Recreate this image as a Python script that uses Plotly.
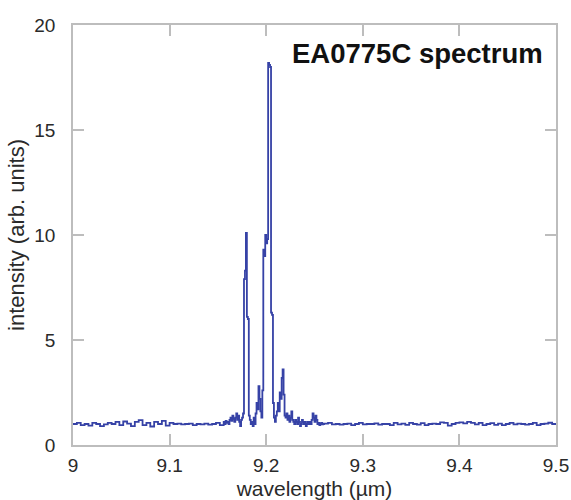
import numpy as np
import plotly.graph_objects as go

# ---- data ----
# baseline left of the emission, sampled every 0.004 um from 9.000
left_intensity = [1.00, 1.05, 0.95, 1.00, 0.92, 1.05, 1.00, 0.90, 0.98, 1.05,
                  1.00, 1.10, 0.95, 1.12, 1.02, 0.90, 1.10, 1.18, 0.95, 1.05,
                  0.88, 1.10, 1.00, 1.15, 0.92, 1.05, 1.00, 1.02, 0.98, 1.00,
                  1.02, 0.95, 1.00, 0.98, 1.02, 0.97, 1.00, 1.05, 0.95, 1.10]
left_start, left_step = 9.000, 0.004

# emission region, sampled every 0.001 um from 9.157
mid_intensity = [1.00, 1.15, 1.05, 1.10, 1.00, 1.20, 1.30, 1.15, 1.40, 1.25,
                 1.10, 1.30, 1.50, 1.20, 1.40, 1.10, 0.90, 1.20, 1.30, 1.50,
                 7.90, 8.30, 10.10, 6.10, 6.00, 1.40, 1.20, 1.00, 1.10, 0.90,
                 1.30, 1.00, 1.50, 2.00, 1.70, 2.80, 2.20, 1.60, 1.30, 2.60,
                 9.30, 9.00, 10.00, 9.60, 9.80, 18.20, 18.10, 18.00, 6.30, 6.20,
                 2.00, 1.30, 1.10, 1.40, 1.60, 2.00, 1.60, 2.50, 2.20, 3.20,
                 3.60, 2.40, 1.40, 1.30, 1.50, 1.20, 1.40, 1.10, 1.30, 1.60,
                 1.20, 1.10, 1.00, 1.20, 1.10, 1.00, 1.30, 1.10, 0.90, 1.00,
                 1.20, 1.10, 1.00, 1.10, 0.90, 1.00, 1.10, 1.00, 1.10, 1.00,
                 1.20, 1.50, 1.30, 1.10, 1.40, 1.20, 1.00, 1.05, 0.95, 1.00,
                 1.05, 0.98, 1.00, 1.02]
mid_start, mid_step = 9.157, 0.001

# baseline right of the emission, sampled every 0.004 um from 9.264
right_intensity = [1.05, 0.98, 1.00, 0.97, 1.00, 1.02, 0.95, 1.00, 1.05, 0.98,
                   1.00, 1.00, 1.03, 0.97, 1.00, 1.00, 0.95, 1.05, 0.98, 1.02,
                   0.96, 1.05, 1.00, 0.97, 1.04, 0.95, 1.00, 1.02, 1.00, 1.08,
                   1.05, 0.92, 1.00, 1.05, 1.08, 1.03, 1.10, 1.05, 0.98, 1.05,
                   0.95, 1.00, 1.04, 0.96, 1.02, 0.95, 1.00, 1.05, 0.98, 1.02,
                   1.00, 0.97, 1.00, 1.05, 0.95, 1.00, 1.02, 1.06, 1.00, 1.03]
right_start, right_step = 9.264, 0.004

x_ticks = [9, 9.1, 9.2, 9.3, 9.4, 9.5]
x_tick_labels = ["9", "9.1", "9.2", "9.3", "9.4", "9.5"]
y_ticks = [0, 5, 10, 15, 20]
y_tick_labels = ["0", "5", "10", "15", "20"]

title_text = "EA0775C spectrum"
x_title = "wavelength (µm)"
y_title = "intensity (arb. units)"

# ---- build wavelength grid ----
def grid(start, step, n):
    return [round(start + step * i, 4) for i in range(n)]

wavelength = (grid(left_start, left_step, len(left_intensity))
              + grid(mid_start, mid_step, len(mid_intensity))
              + grid(right_start, right_step, len(right_intensity)))
intensity = left_intensity + mid_intensity + right_intensity

LINE = "#3642a6"
AX = "#bdbdbd"
TXT = "#2a2a2a"
FONT = "Liberation Sans, Arial, sans-serif"

fig = go.Figure()
fig.add_trace(go.Scatter(
    x=wavelength, y=intensity, mode="lines",
    line=dict(color=LINE, width=1.8, shape="hv"),
    hoverinfo="skip", showlegend=False,
))

axis_common = dict(
    showgrid=False, zeroline=False, showline=True, linecolor=AX, linewidth=1.5,
    mirror="ticks", ticks="inside", tickcolor=AX, tickwidth=1.5, ticklen=11,
    tickfont=dict(family=FONT, size=19, color=TXT), automargin=False,
)

fig.update_layout(
    width=571, height=500,
    margin=dict(l=73, r=15, t=25, b=55),
    paper_bgcolor="white", plot_bgcolor="white",
    font=dict(family=FONT, color=TXT),
    xaxis=dict(range=[9, 9.5], tickvals=x_ticks, ticktext=x_tick_labels,
               title=dict(text=x_title, font=dict(family=FONT, size=21, color=TXT), standoff=8),
               ticklabelstandoff=2, **axis_common),
    yaxis=dict(range=[0, 20], tickvals=y_ticks, ticktext=y_tick_labels,
               title=dict(text=y_title, font=dict(family=FONT, size=22, color=TXT), standoff=4),
               ticklabelstandoff=12, **axis_common),
    annotations=[dict(
        text="<b>" + title_text + "</b>", xref="paper", yref="paper",
        x=0.9765, y=0.932, xanchor="right", yanchor="middle", showarrow=False,
        font=dict(family=FONT, size=27.5, color="#111111"),
    )],
)

fig.write_html(
    "out.html",
    config={"displayModeBar": False},
    post_script="document.body.style.margin='0';document.body.style.overflow='hidden';",
)
